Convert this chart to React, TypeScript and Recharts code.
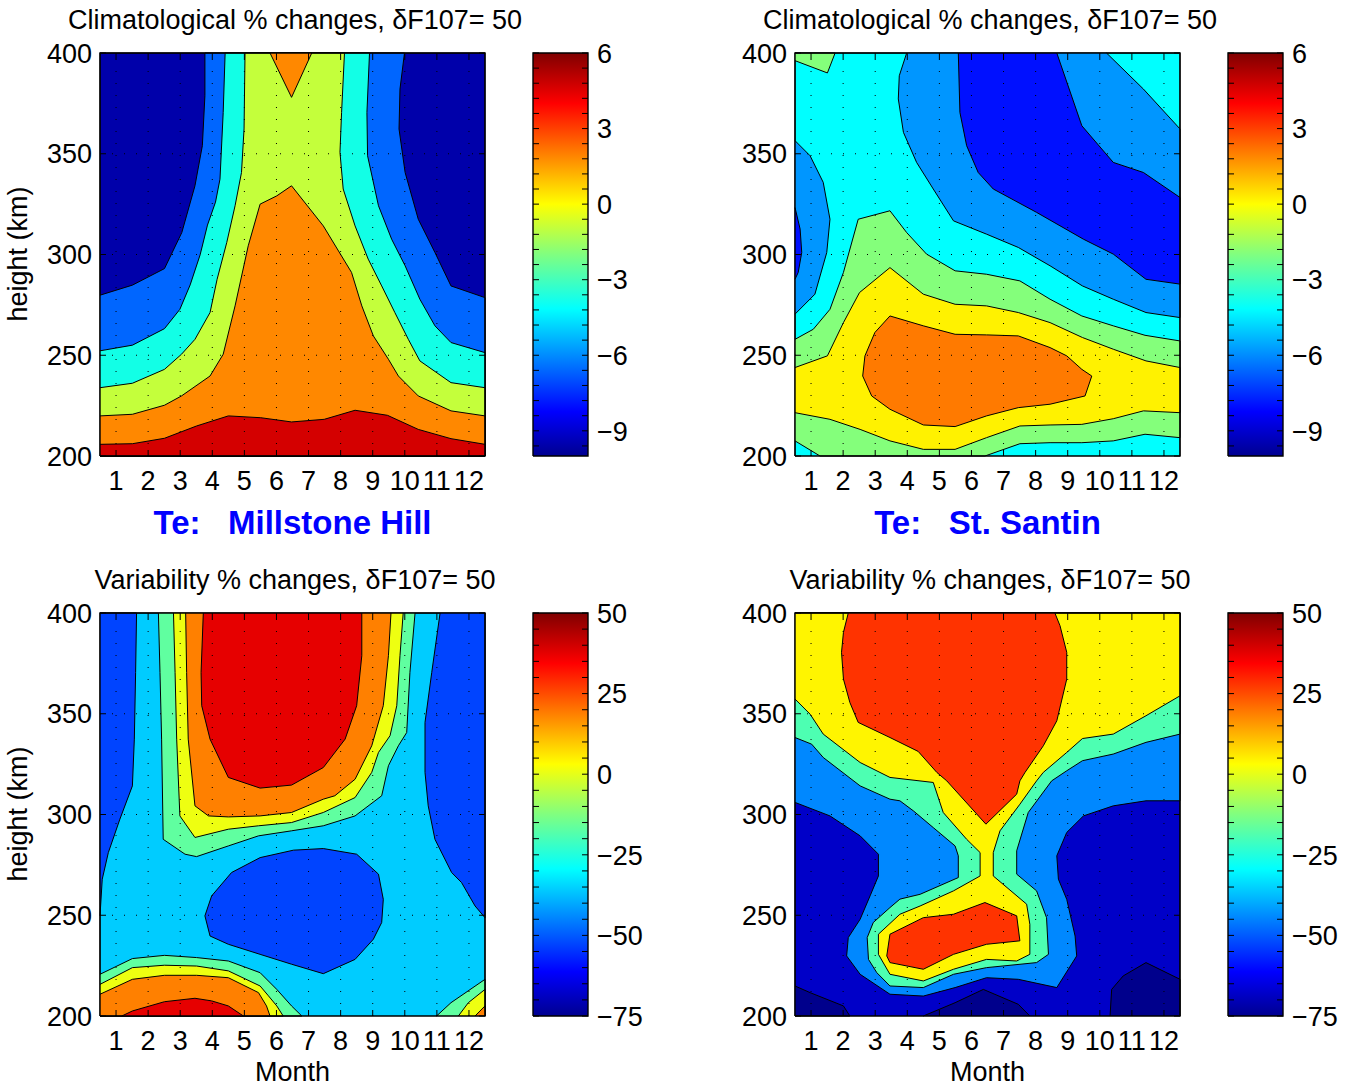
import React from "react";
import { ScatterChart, Scatter, XAxis, YAxis } from "recharts";

type Pt = [number, number];
type Layer = { fill: string; pts: Pt[] };

const FONT = '"Liberation Sans", Arial, Helvetica, sans-serif';

// axes
const MONTHS = [1, 2, 3, 4, 5, 6, 7, 8, 9, 10, 11, 12];
const HEIGHT_TICKS = [200, 250, 300, 350, 400];
const GRID_KM = [250, 300, 350];
const MONTH_RANGE: Pt = [0.5, 12.5];
const KM_RANGE: Pt = [200, 400];

// colour bars
const CLIM_RANGE: Pt = [-10, 6];
const CLIM_LABELS = [6, 3, 0, -3, -6, -9];
const CLIM_MINOR = Array.from({ length: 27 }, (_, i) => +(6 - 0.6 * i).toFixed(1));
const VAR_RANGE: Pt = [-75, 50];
const VAR_LABELS = [50, 25, 0, -25, -50, -75];
const VAR_MINOR = Array.from({ length: 26 }, (_, i) => 50 - 5 * i);

const JET: [number, string][] = [
  [0, "#000090"],
  [0.11, "#0000ff"],
  [0.365, "#00ffff"],
  [0.5, "#80ff80"],
  [0.625, "#ffff00"],
  [0.875, "#ff0000"],
  [1, "#800000"],
];

const FULL: Pt[] = [[0.5, 200], [0.5, 400], [12.5, 400], [12.5, 200]];

// ---- Te climatological change, Millstone Hill (contour bands, month / km)
const TL_BLUE: Pt[] = [[0.5, 279.8], [1.51, 284.8], [2.51, 293.0], [3.05, 310.9], [3.46, 334.1], [3.69, 354.0], [3.77, 378.8], [3.77, 400], [9.99, 400], [9.85, 382.1], [9.82, 362.3], [10.01, 340.7], [10.42, 317.5], [10.94, 301.0], [11.44, 284.4], [12.5, 278.6], [12.5, 200], [0.5, 200]];
const TL_CYAN: Pt[] = [[0.5, 252.2], [1.51, 255.0], [2.51, 263.2], [2.99, 272.8], [3.31, 284.9], [3.62, 299.8], [3.85, 314.6], [4.1, 326.0], [4.24, 337.4], [4.34, 370.5], [4.4, 400], [8.9, 400], [8.82, 370.5], [8.84, 349.0], [9.18, 324.2], [9.59, 307.6], [10.01, 294.4], [10.47, 277.8], [10.94, 264.6], [11.44, 256.3], [12.5, 251.3], [12.5, 200], [0.5, 200]];
const TL_LIME: Pt[] = [[0.5, 233.9], [1.51, 236.1], [2.51, 243.0], [3.04, 250.5], [3.46, 257.9], [3.93, 271.2], [4.15, 287.7], [4.45, 305.9], [4.71, 324.2], [4.91, 340.7], [4.99, 362.3], [5.02, 400], [8.12, 400], [8.03, 370.5], [7.98, 350.7], [8.08, 332.5], [8.45, 314.2], [8.86, 297.7], [9.28, 284.4], [9.69, 271.2], [10.11, 257.9], [10.47, 247.2], [11.44, 236.4], [12.5, 233.9], [12.5, 200], [0.5, 200]];
const TL_ORANGE: Pt[] = [[0.5, 219.9], [1.51, 220.7], [2.51, 225.2], [3.04, 229.8], [3.93, 239.7], [4.34, 250.5], [4.71, 274.5], [5.12, 304.3], [5.49, 325.0], [6.01, 329.1], [6.47, 334.1], [7.46, 314.2], [8.34, 291.1], [8.66, 274.5], [9.02, 259.6], [9.49, 248.0], [9.8, 239.7], [10.42, 229.8], [11.44, 222.4], [12.5, 219.9], [12.5, 200], [0.5, 200]];
const TL_WEDGE: Pt[] = [[5.8, 400], [6.47, 378.0], [7.1, 400]];
const TL_RED: Pt[] = [[0.5, 205.8], [1.51, 206.1], [2.51, 208.8], [3.51, 214.9], [4.5, 219.9], [5.51, 219.0], [6.47, 216.9], [7.49, 218.2], [8.45, 222.7], [9.46, 220.2], [10.42, 213.2], [11.44, 208.6], [12.5, 205.8], [12.5, 200], [0.5, 200]];

// ---- Te climatological change, St. Santin
const TR_CORNER: Pt[] = [[0.5, 396.2], [1.51, 390.1], [1.75, 400], [0.5, 400]];
const TR_MID: Pt[] = [[3.98, 400], [3.75, 388.7], [3.72, 377.2], [3.88, 360.6], [4.29, 345.7], [4.81, 332.5], [5.44, 316.7], [6.47, 310.1], [7.46, 303.5], [8.45, 294.4], [9.46, 284.4], [10.42, 277.8], [11.44, 271.2], [12.5, 268.7], [12.5, 362.3], [11.36, 382.1], [10.21, 400]];
const TR_DEEP: Pt[] = [[5.59, 400], [5.64, 370.5], [5.85, 354.0], [6.21, 340.7], [6.68, 332.5], [8.03, 320.9], [9.49, 307.6], [10.42, 300.2], [11.44, 287.7], [12.5, 285.3], [12.5, 328.3], [11.36, 340.7], [10.42, 345.7], [9.44, 363.9], [8.66, 400]];
const TR_BLOB_MID: Pt[] = [[0.5, 356.5], [0.97, 349.0], [1.38, 335.8], [1.59, 317.5], [1.49, 301.0], [1.12, 280.3], [0.5, 270.4]];
const TR_BLOB_DEEP: Pt[] = [[0.5, 323.3], [0.66, 312.6], [0.71, 301.0], [0.6, 291.1], [0.5, 287.7]];
const TR_GREEN: Pt[] = [[0.5, 257.9], [1.07, 262.9], [1.59, 272.8], [2.01, 291.1], [2.47, 317.5], [3.46, 321.7], [3.98, 310.9], [4.6, 300.2], [5.49, 291.9], [6.47, 290.2], [7.51, 286.9], [8.45, 277.8], [9.44, 269.5], [10.42, 264.6], [11.41, 259.9], [12.5, 257.1], [12.5, 209.1], [11.41, 210.8], [10.42, 207.5], [9.44, 206.6], [8.45, 206.6], [7.51, 206.1], [6.42, 200], [1.28, 200], [0.5, 207.5]];
const TR_YELLOW: Pt[] = [[0.5, 243.9], [1.51, 249.7], [2.01, 266.2], [2.51, 281.1], [3.46, 293.5], [4.5, 280.3], [5.49, 275.3], [6.47, 274.5], [7.46, 271.2], [8.45, 266.2], [9.46, 258.8], [10.42, 253.0], [11.44, 247.2], [12.5, 243.9], [12.5, 221.5], [11.36, 222.4], [10.42, 218.5], [9.44, 215.7], [8.45, 215.4], [7.51, 214.9], [6.47, 209.1], [5.49, 203.3], [4.5, 203.3], [3.46, 207.5], [2.53, 213.2], [1.59, 218.2], [0.5, 221.5]];
const TR_ORANGE: Pt[] = [[3.46, 269.5], [2.99, 261.3], [2.68, 249.7], [2.61, 239.7], [2.89, 229.8], [3.46, 223.2], [4.5, 215.4], [5.49, 214.6], [6.47, 219.9], [7.46, 224.0], [8.45, 225.7], [9.54, 229.8], [9.75, 239.7], [9.44, 243.0], [8.97, 249.7], [8.45, 253.8], [7.46, 259.6], [6.47, 260.1], [5.49, 260.4], [4.5, 264.6], [3.46, 269.5]];

// ---- Te variability change, Millstone Hill
const BL_BLUE_L: Pt[] = [[0.5, 400], [1.64, 400], [1.61, 370.5], [1.57, 337.4], [1.51, 314.2], [1.12, 297.7], [0.76, 281.1], [0.57, 267.9], [0.5, 249.7]];
const BL_BLUE_R: Pt[] = [[11.1, 400], [10.84, 370.5], [10.63, 345.7], [10.63, 320.9], [10.73, 304.3], [10.94, 287.7], [11.46, 271.2], [11.77, 266.2], [12.19, 254.6], [12.5, 248.8], [12.5, 400]];
const BL_BLUE_C: Pt[] = [[6.53, 282.3], [7.46, 283.1], [8.5, 280.3], [9.18, 270.4], [9.33, 257.9], [9.28, 246.4], [9.02, 238.1], [8.45, 228.1], [7.46, 221.0], [6.47, 225.7], [5.49, 230.6], [4.5, 235.6], [3.93, 239.7], [3.77, 249.7], [3.98, 259.6], [4.6, 271.2], [5.49, 278.6], [6.53, 282.3]];
const BL_AQUA_T: Pt[] = [[2.32, 400], [2.37, 370.5], [2.42, 337.4], [2.47, 287.7], [3.15, 280.3], [3.51, 279.1], [4.5, 284.4], [5.44, 289.4], [6.47, 291.9], [7.46, 294.4], [8.45, 299.3], [9.28, 309.3], [9.49, 324.2], [9.8, 334.1], [10.06, 340.7], [10.16, 370.5], [10.32, 400]];
const BL_YELLOW_T: Pt[] = [[2.79, 400], [2.84, 370.5], [2.89, 337.4], [2.99, 299.3], [3.46, 288.6], [4.5, 292.7], [5.44, 294.4], [6.47, 296.0], [7.46, 301.0], [8.45, 308.4], [8.97, 320.9], [9.18, 330.8], [9.54, 339.1], [9.75, 354.0], [9.85, 378.8], [9.95, 400]];
const BL_ORANGE_T: Pt[] = [[3.17, 400], [3.2, 370.5], [3.25, 337.4], [3.46, 304.3], [3.88, 299.3], [4.5, 298.8], [5.49, 299.3], [6.47, 301.0], [7.46, 307.6], [7.82, 309.3], [8.45, 317.5], [8.97, 334.1], [9.33, 354.0], [9.49, 378.8], [9.57, 400]];
const BL_RED_T: Pt[] = [[3.72, 400], [3.65, 370.5], [3.67, 354.0], [3.93, 337.4], [4.5, 318.4], [5.49, 313.1], [6.47, 314.6], [7.46, 323.3], [8.14, 337.4], [8.5, 354.0], [8.66, 378.8], [8.66, 400]];
const BL_AQUA_B: Pt[] = [[0.5, 220.7], [1.51, 228.5], [2.51, 230.1], [3.51, 229.0], [4.5, 227.3], [5.49, 221.5], [6.01, 213.2], [6.47, 205.0], [6.79, 200], [0.5, 200]];
const BL_YELLOW_B: Pt[] = [[0.5, 215.7], [1.51, 224.0], [2.51, 225.2], [3.51, 224.8], [4.5, 222.4], [5.49, 214.9], [5.75, 210.0], [6.01, 205.0], [6.21, 200], [0.5, 200]];
const BL_ORANGE_B: Pt[] = [[0.5, 210.8], [1.51, 218.2], [2.51, 220.2], [3.51, 220.2], [4.5, 219.0], [5.44, 211.6], [5.69, 205.0], [5.8, 200], [0.5, 200]];
const BL_RED_B: Pt[] = [[1.18, 200], [1.51, 202.5], [2.51, 207.1], [3.46, 208.8], [3.98, 207.5], [4.5, 205.0], [4.97, 200]];
const BL_AQUA_BR: Pt[] = [[10.99, 200], [11.44, 206.6], [12.5, 218.2], [12.5, 200]];
const BL_YELLOW_BR: Pt[] = [[11.67, 200], [11.98, 206.6], [12.5, 213.2], [12.5, 200]];
const BL_ORANGE_BR: Pt[] = [[12.19, 200], [12.5, 205.0], [12.5, 200]];

// ---- Te variability change, St. Santin
const BR_NAVY_L: Pt[] = [[0.5, 214.9], [0.97, 211.6], [2.01, 205.0], [2.21, 200], [0.5, 200]];
const BR_NAVY_C: Pt[] = [[4.5, 200], [5.49, 206.6], [6.37, 213.2], [7.46, 205.8], [7.82, 200]];
const BR_NAVY_R: Pt[] = [[10.32, 200], [10.37, 213.2], [10.73, 219.9], [11.44, 226.5], [12.5, 218.2], [12.5, 200]];
const BR_BLUE: Pt[] = [[0.5, 306.0], [1.59, 299.3], [2.53, 289.4], [3.1, 280.3], [3.1, 269.5], [2.84, 259.6], [2.53, 248.0], [2.16, 238.9], [2.11, 229.8], [2.53, 220.7], [3.46, 210.8], [4.5, 209.9], [5.49, 214.1], [6.47, 219.0], [7.46, 218.2], [8.66, 214.1], [9.28, 229.8], [9.23, 239.7], [8.97, 257.9], [8.71, 267.9], [8.66, 279.5], [8.97, 291.1], [9.49, 299.3], [10.42, 304.3], [11.44, 306.8], [12.5, 306.8], [12.5, 400], [0.5, 400]];
const BR_AQUA: Pt[] = [[0.5, 338.2], [1.02, 334.9], [1.38, 328.3], [2.53, 314.2], [3.46, 307.6], [3.77, 306.8], [4.19, 301.8], [4.81, 293.5], [5.49, 284.4], [5.59, 279.5], [5.59, 268.7], [4.4, 260.4], [3.77, 258.0], [3.46, 253.8], [2.94, 246.4], [2.75, 238.9], [2.79, 228.1], [3.05, 221.5], [3.46, 214.9], [4.5, 214.1], [5.44, 220.7], [6.47, 224.0], [8.03, 226.5], [8.4, 230.6], [8.34, 248.8], [8.03, 262.1], [7.41, 270.4], [7.41, 282.0], [7.77, 301.0], [8.5, 316.7], [8.97, 321.7], [9.46, 326.7], [10.42, 330.0], [11.44, 335.8], [12.5, 339.9], [12.5, 400], [0.5, 400]];
const BR_YELLOW: Pt[] = [[0.5, 357.3], [0.97, 349.8], [1.38, 339.9], [2.53, 325.8], [3.46, 318.4], [4.81, 315.9], [5.12, 301.0], [5.85, 287.7], [6.27, 281.1], [6.27, 269.5], [5.44, 262.1], [4.4, 254.6], [3.77, 250.5], [3.1, 240.6], [3.1, 230.6], [3.46, 220.7], [4.5, 217.4], [5.44, 223.2], [6.47, 228.1], [7.41, 227.3], [7.82, 230.6], [7.82, 245.5], [7.72, 255.5], [6.68, 269.5], [6.68, 281.1], [6.89, 291.9], [7.51, 305.1], [8.03, 316.7], [8.24, 320.9], [8.97, 330.8], [9.46, 337.7], [10.42, 339.9], [11.44, 349.0], [12.5, 358.9], [12.5, 400], [0.5, 400]];
const BR_RED_T: Pt[] = [[2.16, 400], [2.01, 390.4], [1.95, 380.5], [2.01, 367.2], [2.21, 355.6], [2.47, 345.7], [3.46, 338.2], [4.34, 331.3], [4.92, 320.9], [5.23, 316.7], [6.45, 295.2], [7.41, 310.1], [7.51, 316.7], [7.67, 320.9], [8.24, 334.1], [8.66, 346.5], [8.97, 367.2], [8.97, 380.5], [8.76, 393.7], [8.6, 400]];
const BR_RED_B: Pt[] = [[3.46, 240.6], [4.5, 248.8], [5.44, 250.5], [6.42, 256.3], [7.41, 249.7], [7.51, 237.3], [6.47, 235.6], [5.44, 230.6], [4.5, 223.2], [3.46, 226.5], [3.36, 229.8], [3.46, 240.6]];

const TL_LAYERS: Layer[] = [
  { fill: "#0000aa", pts: FULL },
  { fill: "#0066ff", pts: TL_BLUE },
  { fill: "#12ffe6", pts: TL_CYAN },
  { fill: "#c4ff3b", pts: TL_LIME },
  { fill: "#ff8800", pts: TL_ORANGE },
  { fill: "#ff8800", pts: TL_WEDGE },
  { fill: "#d40000", pts: TL_RED },
];
const TR_LAYERS: Layer[] = [
  { fill: "#00ffff", pts: FULL },
  { fill: "#84ff7b", pts: TR_CORNER },
  { fill: "#0096ff", pts: TR_MID },
  { fill: "#0010ff", pts: TR_DEEP },
  { fill: "#0096ff", pts: TR_BLOB_MID },
  { fill: "#0010ff", pts: TR_BLOB_DEEP },
  { fill: "#84ff7b", pts: TR_GREEN },
  { fill: "#fff200", pts: TR_YELLOW },
  { fill: "#ff7a00", pts: TR_ORANGE },
];
const BL_LAYERS: Layer[] = [
  { fill: "#00ccff", pts: FULL },
  { fill: "#0044ff", pts: BL_BLUE_L },
  { fill: "#0044ff", pts: BL_BLUE_R },
  { fill: "#0044ff", pts: BL_BLUE_C },
  { fill: "#60ffa0", pts: BL_AQUA_T },
  { fill: "#eeff11", pts: BL_YELLOW_T },
  { fill: "#ff8000", pts: BL_ORANGE_T },
  { fill: "#e60000", pts: BL_RED_T },
  { fill: "#60ffa0", pts: BL_AQUA_B },
  { fill: "#eeff11", pts: BL_YELLOW_B },
  { fill: "#ff8000", pts: BL_ORANGE_B },
  { fill: "#e60000", pts: BL_RED_B },
  { fill: "#60ffa0", pts: BL_AQUA_BR },
  { fill: "#eeff11", pts: BL_YELLOW_BR },
  { fill: "#ff8000", pts: BL_ORANGE_BR },
];
const BR_LAYERS: Layer[] = [
  { fill: "#0000c8", pts: FULL },
  { fill: "#00008c", pts: BR_NAVY_L },
  { fill: "#00008c", pts: BR_NAVY_C },
  { fill: "#00008c", pts: BR_NAVY_R },
  { fill: "#0088ff", pts: BR_BLUE },
  { fill: "#4dffb2", pts: BR_AQUA },
  { fill: "#fff500", pts: BR_YELLOW },
  { fill: "#ff3300", pts: BR_RED_T },
  { fill: "#ff3300", pts: BR_RED_B },
];

const toXY = (pts: Pt[]) => pts.map(([m, h]) => ({ m, h }));
const fmt = (v: number) => (v < 0 ? "\u2212" + Math.abs(v) : String(v));

const NoDot = () => <g />;
const TickUp = (p: any) => <line x1={p.cx} x2={p.cx} y1={p.cy} y2={p.cy - 6} stroke="#000" />;
const TickDown = (p: any) => <line x1={p.cx} x2={p.cx} y1={p.cy} y2={p.cy + 6} stroke="#000" />;
const TickRight = (p: any) => <line x1={p.cx} x2={p.cx + 6} y1={p.cy} y2={p.cy} stroke="#000" />;
const TickLeft = (p: any) => <line x1={p.cx} x2={p.cx - 6} y1={p.cy} y2={p.cy} stroke="#000" />;

const MonthTick = ({ x, y, payload }: any) => (
  <text x={x} y={y + 34} textAnchor="middle" fontSize={27} fontFamily={FONT} fill="#000">
    {payload.value}
  </text>
);
const KmTick = ({ x, y, payload }: any) => (
  <text x={x - 8} y={y + 9.7} textAnchor="end" fontSize={27} fontFamily={FONT} fill="#000">
    {payload.value}
  </text>
);
const BarTick = ({ x, y, payload }: any) => (
  <text x={x + 9} y={y + 9.7} textAnchor="start" fontSize={27} fontFamily={FONT} fill="#000">
    {fmt(payload.value)}
  </text>
);

function ContourPanel({ left, top, layers }: { left: number; top: number; layers: Layer[] }) {
  const [m0, m1] = MONTH_RANGE;
  const [h0, h1] = KM_RANGE;
  const frame: Pt[] = [[m0, h0], [m0, h1], [m1, h1], [m1, h0], [m0, h0]];
  return (
    <div style={{ position: "absolute", left: left - 100, top: top - 53 }}>
      <ScatterChart width={490} height={500} margin={{ top: 53, right: 5, bottom: 4, left: 0 }}>
        <XAxis type="number" dataKey="m" domain={MONTH_RANGE} ticks={MONTHS} interval={0} height={40}
          tickSize={0} tickMargin={0} axisLine={false} tickLine={false} tick={MonthTick} />
        <YAxis type="number" dataKey="h" domain={KM_RANGE} ticks={HEIGHT_TICKS} interval={0} width={100}
          tickSize={0} tickMargin={0} axisLine={false} tickLine={false} tick={KmTick} />
        {layers.map((l, i) => (
          <Scatter key={"l" + i} data={toXY(l.pts)} fill={l.fill} shape={NoDot} isAnimationActive={false}
            line={{ fill: l.fill, stroke: "#000", strokeWidth: 1 }} />
        ))}
        {MONTHS.map((m) => (
          <Scatter key={"gv" + m} data={[{ m, h: h0 }, { m, h: h1 }]} shape={NoDot} isAnimationActive={false}
            line={{ stroke: "#000", strokeWidth: 1, strokeDasharray: "1 11" }} />
        ))}
        {GRID_KM.map((h) => (
          <Scatter key={"gh" + h} data={[{ m: m0, h }, { m: m1, h }]} shape={NoDot} isAnimationActive={false}
            line={{ stroke: "#000", strokeWidth: 1, strokeDasharray: "1 11" }} />
        ))}
        <Scatter data={MONTHS.map((m) => ({ m, h: h0 }))} shape={TickUp} isAnimationActive={false} />
        <Scatter data={MONTHS.map((m) => ({ m, h: h1 }))} shape={TickDown} isAnimationActive={false} />
        <Scatter data={HEIGHT_TICKS.map((h) => ({ m: m0, h }))} shape={TickRight} isAnimationActive={false} />
        <Scatter data={HEIGHT_TICKS.map((h) => ({ m: m1, h }))} shape={TickLeft} isAnimationActive={false} />
        <Scatter data={toXY(frame)} shape={NoDot} isAnimationActive={false}
          line={{ stroke: "#000", strokeWidth: 1.4 }} />
      </ScatterChart>
    </div>
  );
}

function ColorBar({ left, top, range, labels, minor, id }: {
  left: number; top: number; range: Pt; labels: number[]; minor: number[]; id: string;
}) {
  const [lo, hi] = range;
  const rect = [{ x: 0, v: lo }, { x: 0, v: hi }, { x: 1, v: hi }, { x: 1, v: lo }, { x: 0, v: lo }];
  return (
    <div style={{ position: "absolute", left: left - 10, top: top - 25 }}>
      <ScatterChart width={125} height={453} margin={{ top: 25, right: 0, bottom: 25, left: 10 }}>
        <defs>
          <linearGradient id={id} x1="0" y1="1" x2="0" y2="0">
            {JET.map(([o, c]) => (
              <stop key={o} offset={o} stopColor={c} />
            ))}
          </linearGradient>
        </defs>
        <XAxis type="number" dataKey="x" domain={[0, 1]} hide />
        <YAxis type="number" dataKey="v" domain={range} orientation="right" ticks={labels} interval={0}
          width={60} tickSize={0} tickMargin={0} axisLine={false} tickLine={false} tick={BarTick} />
        <Scatter data={rect} shape={NoDot} isAnimationActive={false}
          line={{ fill: `url(#${id})`, stroke: "#000", strokeWidth: 1.4 }} />
        <Scatter data={minor.map((v) => ({ x: 0, v }))} shape={TickRight} isAnimationActive={false} />
        <Scatter data={minor.map((v) => ({ x: 1, v }))} shape={TickLeft} isAnimationActive={false} />
      </ScatterChart>
    </div>
  );
}

const text = (extra: React.CSSProperties): React.CSSProperties => ({
  position: "absolute",
  fontFamily: FONT,
  fontSize: 27,
  lineHeight: "30px",
  color: "#000",
  whiteSpace: "pre",
  textAlign: "center",
  ...extra,
});

function YLabel({ cy }: { cy: number }) {
  return (
    <div style={text({ left: 18, top: cy, transform: "translate(-50%, -50%) rotate(-90deg)", lineHeight: "27px" })}>
      height (km)
    </div>
  );
}

export default function App() {
  return (
    <div style={{ position: "absolute", left: 0, top: 0, width: 1350, height: 1086, background: "#fff", overflow: "hidden" }}>
      <div style={text({ left: -5, top: 5, width: 600 })}>Climatological % changes, δF107= 50</div>
      <div style={text({ left: 690, top: 5, width: 600 })}>Climatological % changes, δF107= 50</div>
      <div style={text({ left: -5, top: 565, width: 600 })}>Variability % changes, δF107= 50</div>
      <div style={text({ left: 690, top: 565, width: 600 })}>Variability % changes, δF107= 50</div>

      <ContourPanel left={100} top={53} layers={TL_LAYERS} />
      <ContourPanel left={795} top={53} layers={TR_LAYERS} />
      <ContourPanel left={100} top={613} layers={BL_LAYERS} />
      <ContourPanel left={795} top={613} layers={BR_LAYERS} />

      <ColorBar left={533} top={53} range={CLIM_RANGE} labels={CLIM_LABELS} minor={CLIM_MINOR} id="jet-a" />
      <ColorBar left={1228} top={53} range={CLIM_RANGE} labels={CLIM_LABELS} minor={CLIM_MINOR} id="jet-b" />
      <ColorBar left={533} top={613} range={VAR_RANGE} labels={VAR_LABELS} minor={VAR_MINOR} id="jet-c" />
      <ColorBar left={1228} top={613} range={VAR_RANGE} labels={VAR_LABELS} minor={VAR_MINOR} id="jet-d" />

      <YLabel cy={254} />
      <YLabel cy={814} />

      <div style={text({ left: 100, top: 505, width: 385, fontSize: 33, lineHeight: "36px", fontWeight: "bold", color: "#0000ff" })}>
        Te:   Millstone Hill
      </div>
      <div style={text({ left: 795, top: 505, width: 385, fontSize: 33, lineHeight: "36px", fontWeight: "bold", color: "#0000ff" })}>
        Te:   St. Santin
      </div>
      <div style={text({ left: 100, top: 1057, width: 385 })}>Month</div>
      <div style={text({ left: 795, top: 1057, width: 385 })}>Month</div>
    </div>
  );
}
